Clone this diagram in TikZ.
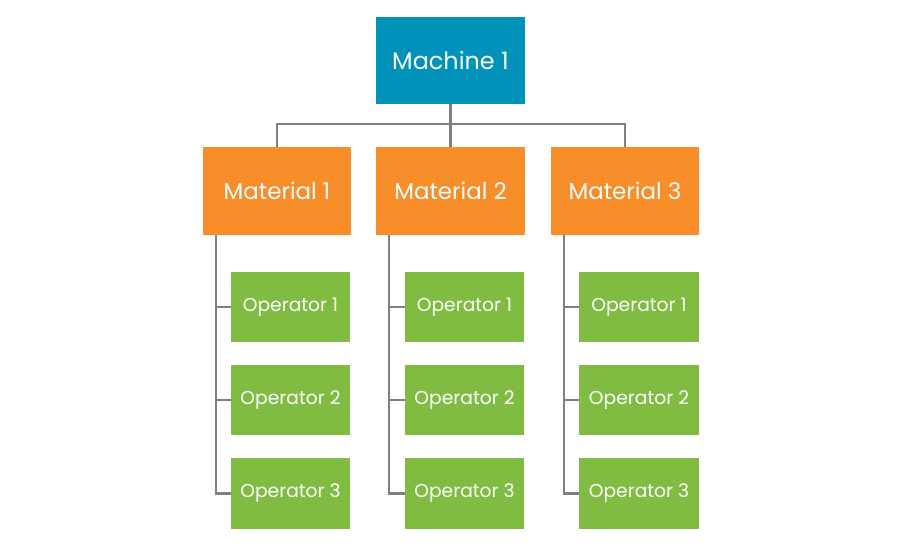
\documentclass[tikz,border=0pt]{standalone}
\usepackage{fontspec}
\setmainfont{Poppins}
\usepackage{tikz}
\usetikzlibrary{positioning,calc}
\definecolor{machblue}{RGB}{0,146,185}
\definecolor{matorange}{RGB}{247,142,42}
\definecolor{opgreen}{RGB}{128,188,66}
\definecolor{linkgray}{RGB}{128,128,128}
\tikzset{
  mbox/.style  = {fill=machblue, text=white, minimum width=3.7cm, minimum height=2.175cm, inner sep=0pt, font=\fontsize{17}{19}\selectfont},
  tbox/.style  = {fill=matorange, text=white, minimum width=3.7cm, minimum height=2.2cm, inner sep=0pt, font=\fontsize{16.3}{19}\selectfont},
  obox/.style  = {fill=opgreen, text=white, minimum width=2.975cm, minimum height=1.75cm, inner sep=0pt, font=\fontsize{13.3}{16}\selectfont},
  link/.style  = {draw=linkgray, line width=1.5pt},
}

\begin{document}
\begin{tikzpicture}[x=0.025cm, y=-0.025cm]
  \useasboundingbox (0,0) rectangle (900,550);
  % top level
  \node[mbox] (mach) at (450.5,60.5) {Machine 1};
  % materials
  \node[tbox] (mat1) at (277,191) {Material 1};
  \node[tbox] (mat2) at (450.5,191) {Material 2};
  \node[tbox] (mat3) at (625,191) {Material 3};
  \draw[link] (mach.south) -- ++(0,20) coordinate (bus);
  \foreach \m in {1,2,3}
    \draw[link] (bus) -| (mat\m.north);
  % operators under each material
  \foreach \m/\x in {1/290.5, 2/464.5, 3/639} {
    \foreach \o/\y in {1/307, 2/400, 3/493.5}
      \node[obox] (op\m\o) at (\x,\y) {Operator \o};
    \coordinate (spine\m) at ([xshift=13*0.025cm]mat\m.south west);
    \draw[link] (spine\m) |- (op\m3.west);
    \draw[link] (op\m1.west) -- (op\m1.west -| spine\m);
    \draw[link] (op\m2.west) -- (op\m2.west -| spine\m);
  }
\end{tikzpicture}
\end{document}
